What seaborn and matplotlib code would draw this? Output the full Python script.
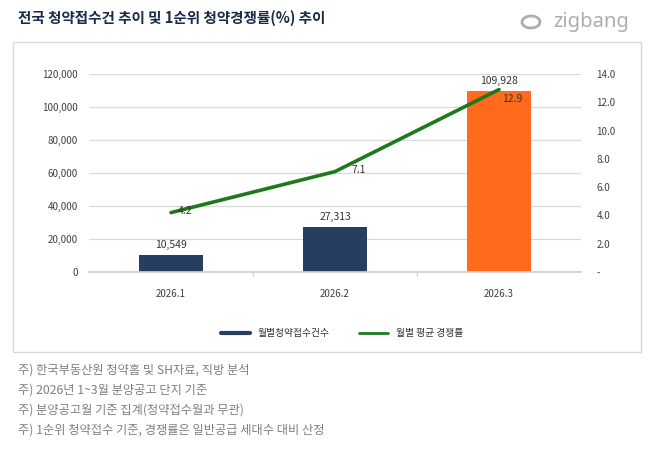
import matplotlib
matplotlib.use("Agg")
import matplotlib.pyplot as plt
import seaborn as sns
import numpy as np
import pandas as pd
from matplotlib.patches import Rectangle, Ellipse
from matplotlib.lines import Line2D

months = ["2026.1", "2026.2", "2026.3"]
applications = [10549, 27313, 109928]
comp_rate = [4.2, 7.1, 12.9]
bar_colors = ["#263f61", "#263f61", "#ff6a1c"]
left_ticks = [0, 20000, 40000, 60000, 80000, 100000, 120000]
right_ticks = [0, 2, 4, 6, 8, 10, 12, 14]
title = "전국 청약접수건 추이 및 1순위 청약경쟁률(%) 추이"
legend_labels = ["월별청약접수건수", "월별 평균 경쟁률"]
notes = ["주) 한국부동산원 청약홈 및 SH자료, 직방 분석",
         "주) 2026년 1~3월 분양공고 단지 기준",
         "주) 분양공고월 기준 집계(청약접수월과 무관)",
         "주) 1순위 청약접수 기준, 경쟁률은 일반공급 세대수 대비 산정"]

sns.set_theme(style="white")
plt.rcParams['font.family'] = ['Noto Sans CJK KR', 'DejaVu Sans']

fig = plt.figure(figsize=(6.55, 4.49), dpi=100)
W, H = 655, 449
def fx(x): return x / W
def fy(y): return 1 - y / H

# chart border
fig.patches.append(Rectangle((fx(13), fy(352)), fx(641) - fx(13), fy(42) - fy(352),
                             transform=fig.transFigure, fill=False,
                             edgecolor="#d9d9d9", lw=1.0))

ax = fig.add_axes([fx(89), fy(272), fx(581) - fx(89), fy(74) - fy(272)])
df = pd.DataFrame({"month": months, "apps": applications})
sns.barplot(data=df, x="month", y="apps", hue="month", palette=bar_colors,
            legend=False, width=0.385, ax=ax, edgecolor="none", saturation=1)
ax.set_ylim(0, 120000)
ax.set_xlim(-0.5, 2.5)
ax.set_yticks(left_ticks)
ax.set_yticklabels([f"{v:,}" for v in left_ticks], fontsize=7, color="#404040")
ax.tick_params(axis="y", length=0, pad=8)
ax.tick_params(axis="x", length=0, pad=12, labelsize=7, labelcolor="#404040")
ax.set_xlabel("")
ax.set_ylabel("")
ax.grid(axis="y", color="#d9d9d9", lw=0.9)
ax.set_axisbelow(True)
for s in ["top", "right", "left"]:
    ax.spines[s].set_visible(False)
ax.spines["bottom"].set_color("#d0d0d0")
for xb in [0.5, 1.5]:
    ax.plot([xb, xb], [0, -0.02], transform=ax.get_xaxis_transform(),
            color="#d0d0d0", lw=0.9, clip_on=False)

for i, v in enumerate(applications):
    ax.annotate(f"{v:,}", (i, v), xytext=(0, 3.5), textcoords="offset points",
                ha="center", va="bottom", fontsize=7.5, color="#333333")

ax2 = ax.twinx()
sns.lineplot(x=np.arange(len(months)), y=comp_rate, ax=ax2, color="#1c7a1c",
             lw=2.6, legend=False)
ax2.set_ylim(0, 14)
ax2.set_yticks(right_ticks)
ax2.set_yticklabels(["-"] + [f"{v:.1f}" for v in right_ticks[1:]], fontsize=7, color="#404040")
ax2.tick_params(axis="y", length=0, pad=11)
ax2.set_ylabel("")
for s in ["top", "right", "left", "bottom"]:
    ax2.spines[s].set_visible(False)
label_offsets = [(5, 1), (12, 1), (2, -7)]
for i, v in enumerate(comp_rate):
    ax2.annotate(f"{v}", (i, v), xytext=label_offsets[i], textcoords="offset points",
                 ha="left", va="center", fontsize=7.5, color="#333333")

handles = [Line2D([], [], color="#263f61", lw=3),
           Line2D([], [], color="#1c7a1c", lw=2)]
fig.legend(handles, legend_labels, loc="center", bbox_to_anchor=(fx(342), fy(333)),
           ncol=2, frameon=False, fontsize=7, handlelength=3, columnspacing=3,
           labelcolor="#333333")

fig.text(fx(18), fy(18), title, fontsize=10.5, fontweight="bold", color="#1a2a4a",
         va="center", ha="left")
fig.text(fx(553), fy(22), "zigbang", fontsize=14.5, fontweight="bold", color="#adadad",
         va="center", ha="left", family=["Noto Sans", "DejaVu Sans"])
fig.patches.append(Ellipse((fx(531), fy(22)), fx(18), fy(0) - fy(12), angle=20,
                           transform=fig.transFigure, fill=False,
                           edgecolor="#adadad", lw=2.0))

for k, n in enumerate(notes):
    fig.text(fx(18), fy(370 + 20 * k), n, fontsize=8.8, color="#7f7f7f",
             va="center", ha="left")

fig.savefig("out.png", dpi=100)
